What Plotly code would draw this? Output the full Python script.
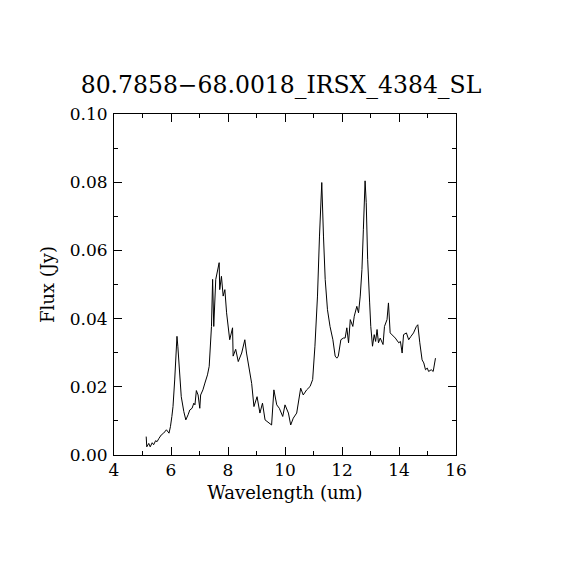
import plotly.graph_objects as go

TITLE = "80.7858\u221268.0018_IRSX_4384_SL"

# spectrum (wavelength in um, flux in Jy)
wavelength = [
    5.13, 5.15, 5.22, 5.27, 5.34, 5.39, 5.46, 5.51, 5.58, 5.66, 5.74, 5.84,
    5.93, 5.98, 6.03, 6.07, 6.13, 6.19, 6.21, 6.24, 6.30, 6.36, 6.45, 6.52,
    6.60, 6.66, 6.74, 6.80, 6.84, 6.89, 6.95, 7.01, 7.04, 7.12, 7.19, 7.28,
    7.34, 7.38, 7.42, 7.46, 7.50, 7.57, 7.65, 7.69, 7.71, 7.77, 7.83, 7.89,
    7.95, 8.06, 8.16, 8.18, 8.27, 8.36, 8.48, 8.59, 8.65, 8.83, 8.91, 9.02,
    9.12, 9.21, 9.30, 9.47, 9.53, 9.61, 9.71, 9.80, 9.92, 10.00, 10.12, 10.20,
    10.29, 10.41, 10.55, 10.64, 10.76, 10.88, 10.97, 11.05, 11.14, 11.21, 11.26, 11.29,
    11.35, 11.41, 11.49, 11.58, 11.68, 11.76, 11.82, 11.87, 11.96, 12.05, 12.11, 12.17,
    12.23, 12.29, 12.38, 12.43, 12.52, 12.58, 12.64, 12.70, 12.75, 12.81, 12.85, 12.90,
    12.97, 13.01, 13.07, 13.13, 13.18, 13.23, 13.28, 13.34, 13.44, 13.49, 13.58, 13.63,
    13.69, 13.75, 13.87, 13.99, 14.05, 14.11, 14.16, 14.26, 14.34, 14.42, 14.51, 14.61,
    14.66, 14.73, 14.81, 14.87, 14.93, 14.99, 15.04, 15.13, 15.20, 15.28,
]
flux = [
    0.0054, 0.0024, 0.0034, 0.0024, 0.0036, 0.0030, 0.0042, 0.0039, 0.0049, 0.0059, 0.0064, 0.0074,
    0.0064, 0.0083, 0.0113, 0.0142, 0.0220, 0.0319, 0.0348, 0.0319, 0.0250, 0.0171, 0.0127, 0.0103,
    0.0118, 0.0132, 0.0137, 0.0152, 0.0147, 0.0189, 0.0176, 0.0137, 0.0176, 0.0191, 0.0211, 0.0235,
    0.0260, 0.0319, 0.0377, 0.0515, 0.0377, 0.0515, 0.0554, 0.0564, 0.0485, 0.0524, 0.0466, 0.0485,
    0.0417, 0.0338, 0.0373, 0.0290, 0.0310, 0.0274, 0.0299, 0.0338, 0.0299, 0.0210, 0.0142, 0.0171,
    0.0123, 0.0152, 0.0103, 0.0093, 0.0088, 0.0191, 0.0147, 0.0137, 0.0113, 0.0147, 0.0123, 0.0088,
    0.0108, 0.0123, 0.0196, 0.0176, 0.0191, 0.0201, 0.0221, 0.0319, 0.0466, 0.0642, 0.0770, 0.0799,
    0.0642, 0.0515, 0.0426, 0.0377, 0.0338, 0.0290, 0.0284, 0.0290, 0.0338, 0.0343, 0.0343, 0.0373,
    0.0329, 0.0397, 0.0377, 0.0407, 0.0436, 0.0417, 0.0466, 0.0544, 0.0662, 0.0804, 0.0740, 0.0574,
    0.0446, 0.0377, 0.0319, 0.0353, 0.0333, 0.0368, 0.0329, 0.0343, 0.0324, 0.0377, 0.0397, 0.0446,
    0.0358, 0.0353, 0.0343, 0.0329, 0.0333, 0.0299, 0.0353, 0.0358, 0.0338, 0.0348, 0.0358, 0.0377,
    0.0382, 0.0329, 0.0279, 0.0270, 0.0250, 0.0255, 0.0245, 0.0250, 0.0245, 0.0284,
]

x_ticks = [4, 6, 8, 10, 12, 14, 16]
y_ticks = [0.00, 0.02, 0.04, 0.06, 0.08, 0.10]

FONT = "DejaVu Serif"

fig = go.Figure()
fig.add_trace(go.Scatter(
    x=wavelength, y=flux, mode="lines",
    line=dict(color="black", width=1),
    showlegend=False, hoverinfo="x+y",
))

axis_common = dict(
    showline=True, linecolor="black", linewidth=1, mirror="ticks",
    ticks="inside", ticklen=8, tickwidth=1, tickcolor="black",
    showgrid=False, zeroline=False,
    tickfont=dict(family=FONT, size=17, color="black"),
)

fig.update_xaxes(
    range=[4, 16], tickvals=x_ticks, ticktext=[str(v) for v in x_ticks],
    minor=dict(dtick=1, ticklen=4, ticks="inside", tickcolor="black"),
    title=dict(text="Wavelength (um)", font=dict(family=FONT, size=18, color="black"), standoff=6),
    **axis_common,
)
fig.update_yaxes(
    range=[0, 0.10], tickvals=y_ticks, ticktext=[f"{v:.2f}" for v in y_ticks],
    minor=dict(dtick=0.01, ticklen=4, ticks="inside", tickcolor="black"),
    title=dict(text="Flux (Jy)", font=dict(family=FONT, size=18, color="black"), standoff=10),
    ticklabelstandoff=2,
    **axis_common,
)

# page body adds an 8px offset, so margins are trimmed on the left/top
fig.update_layout(
    width=570, height=570,
    paper_bgcolor="white", plot_bgcolor="white",
    margin=dict(l=106, r=122, t=106, b=123),
    title=dict(text=TITLE, x=(281 - 8) / 570, xanchor="center", y=1 - 77 / 570, yanchor="middle",
               font=dict(family=FONT, size=23.5, color="black")),
)

fig.write_html("out.html")
